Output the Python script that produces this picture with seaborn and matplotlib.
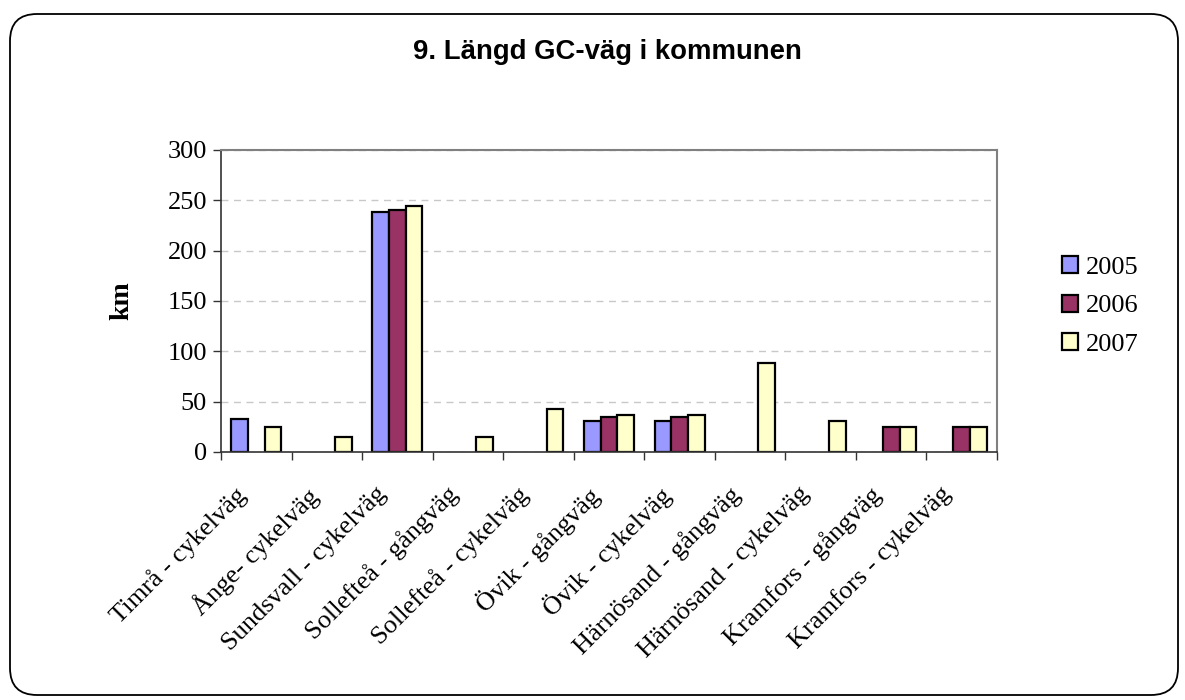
import seaborn as sns
import matplotlib.pyplot as plt
import matplotlib.transforms as mtransforms
import pandas as pd
import numpy as np
from matplotlib.patches import FancyBboxPatch

# Data (km of GC-väg per municipality)
categories = [
    "Timrå - cykelväg", "Ånge- cykelväg", "Sundsvall - cykelväg",
    "Sollefteå - gångväg", "Sollefteå - cykelväg", "Övik - gångväg",
    "Övik - cykelväg", "Härnösand - gångväg", "Härnösand - cykelväg",
    "Kramfors - gångväg", "Kramfors - cykelväg",
]
years = ["2005", "2006", "2007"]
km_2005 = [33, np.nan, 238, np.nan, np.nan, 30.5, 30.5, np.nan, np.nan, np.nan, np.nan]
km_2006 = [np.nan, np.nan, 240, np.nan, np.nan, 35, 35, np.nan, np.nan, 25, 25]
km_2007 = [25, 15, 244, 15, 43, 37, 37, 88, 30.5, 25, 25]
y_ticks = [0, 50, 100, 150, 200, 250, 300]
colors = ["#9999FF", "#993366", "#FFFFCC"]

df = pd.DataFrame({"Kategori": categories, "2005": km_2005, "2006": km_2006, "2007": km_2007})
df_long = df.melt(id_vars="Kategori", var_name="År", value_name="km")

sns.set_style("white")
plt.rcParams["font.family"] = ["Liberation Serif", "DejaVu Serif"]
plt.rcParams["text.color"] = "black"
plt.rcParams["xtick.color"] = "black"
plt.rcParams["ytick.color"] = "black"
plt.rcParams["axes.labelcolor"] = "black"

fig = plt.figure(figsize=(11.85, 7), dpi=100)
ax = fig.add_axes([221 / 1185, 1 - 452 / 700, (997 - 221) / 1185, (452 - 150) / 700])

sns.barplot(
    data=df_long, x="Kategori", y="km", hue="År", hue_order=years,
    order=categories, palette=colors, saturation=1, width=0.71, dodge=True,
    edgecolor="black", linewidth=1.6, errorbar=None, ax=ax,
)

# axes styling
ax.set_ylim(0, 300)
ax.set_xlim(-0.5, len(categories) - 0.5)
ax.set_yticks(y_ticks)
ax.set_yticklabels([str(t) for t in y_ticks], fontsize=19)
ax.yaxis.grid(True, linestyle=(0, (5, 4)), color="#c8c8c8", linewidth=1)
ax.set_axisbelow(True)
for side in ["top", "right"]:
    ax.spines[side].set_color("#808080")
    ax.spines[side].set_linewidth(1.5)
for side in ["left", "bottom"]:
    ax.spines[side].set_color("#333333")
    ax.spines[side].set_linewidth(1.2)
ax.tick_params(axis="y", direction="out", length=6, width=1, color="#333333", left=True, pad=4)

# x ticks at category boundaries, labels at centres
ax.set_xticks(np.arange(len(categories)))
ax.set_xticklabels(categories, rotation=45, ha="right", rotation_mode="anchor", fontsize=19)
ax.set_xticks(np.arange(-0.5, len(categories)), minor=True)
ax.tick_params(axis="x", which="major", length=0, pad=22)
ax.tick_params(axis="x", which="minor", direction="out", length=6, width=1, color="#333333", bottom=True)
shift = mtransforms.ScaledTranslation(-22 / 100, 0, fig.dpi_scale_trans)
for lbl in ax.get_xticklabels():
    lbl.set_transform(lbl.get_transform() + shift)

ax.set_xlabel("")
ax.set_ylabel("km", fontsize=20, fontweight="bold", labelpad=24)

leg = ax.legend(
    loc="center left", bbox_to_anchor=(1.07, 0.483), frameon=False,
    fontsize=19, handlelength=0.6, handleheight=0.6, handletextpad=0.3,
    labelspacing=0.6, borderaxespad=0,
)

fig.text(607 / 1185, 1 - 52 / 700, "9. Längd GC-väg i kommunen",
         ha="center", va="center", fontsize=19.8, fontweight="bold",
         family=["Liberation Sans", "DejaVu Sans"])

# rounded frame around the whole chart
frame = FancyBboxPatch((0.1, 0.05), 11.68, 6.81,
                       boxstyle="round,pad=0,rounding_size=0.27",
                       transform=fig.dpi_scale_trans, fill=False,
                       edgecolor="black", linewidth=1.3)
fig.patches.append(frame)

fig.savefig("out.png", dpi=100)
